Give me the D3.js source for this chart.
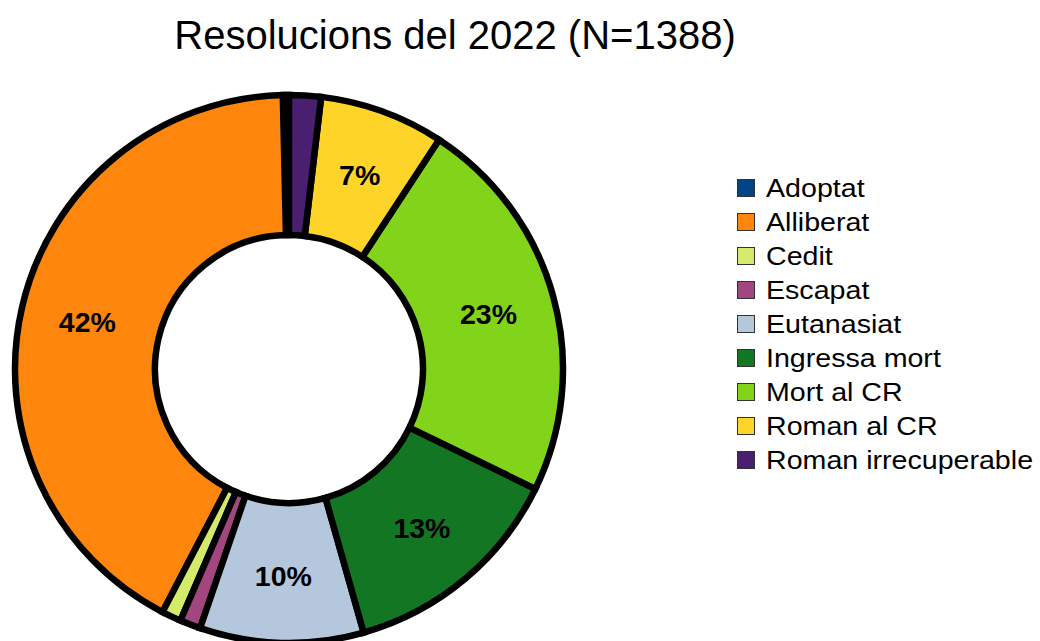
<!DOCTYPE html>
<html><head><meta charset="utf-8">
<script src="https://cdn.jsdelivr.net/npm/d3@7"></script>
<style>body{margin:0;background:#fff}svg{display:block}text{font-family:"Liberation Sans",Arial,sans-serif}</style>
</head><body>
<script>
const categories = ["Adoptat","Alliberat","Cedit","Escapat","Eutanasiat","Ingressa mort","Mort al CR","Roman al CR","Roman irrecuperable"];
const counts = [5,583,16,17,134,186,319,102,26];
const colors = ["#004586","#ff860d","#d4ea6b","#a1467e","#b4c7dc","#127622","#81d41a","#ffd428","#4b1f6f"];
const title = "Resolucions del 2022 (N=1388)";

const W=1040,H=641;
const svg=d3.select("body").append("svg").attr("width",W).attr("height",H);
svg.append("text").attr("x",455).attr("y",48.5).attr("text-anchor","middle")
  .attr("font-size",40).attr("fill","#000").text(title);

const cx=289, cy=369, rO=274, rI=134;
const total=d3.sum(counts);
const data=categories.map((c,i)=>({c,v:counts[i],col:colors[i]}));
const pie=d3.pie().value(d=>d.v).sort(null).startAngle(0).endAngle(-2*Math.PI);
const arcs=pie(data);
const arc=d3.arc().innerRadius(rI).outerRadius(rO);
const g=svg.append("g").attr("transform",`translate(${cx},${cy})`);
g.selectAll("path").data(arcs).join("path").attr("d",arc)
  .attr("fill",d=>d.data.col).attr("stroke","#000").attr("stroke-width",6.5).attr("stroke-linejoin","miter");
const lab=d3.arc().innerRadius(207).outerRadius(207);
g.selectAll("text.l").data(arcs.filter(d=>d.data.v/total>=0.05)).join("text")
  .attr("class","l").attr("transform",d=>`translate(${lab.centroid(d)})`)
  .attr("text-anchor","middle").attr("dy","0.36em").attr("font-size",28.5).attr("font-weight","bold")
  .text(d=>Math.round(d.data.v/total*100)+"%");

const lg=svg.append("g").attr("transform","translate(737,187.5)");
const rows=lg.selectAll("g").data(data).join("g").attr("transform",(d,i)=>`translate(0,${i*34})`);
rows.append("rect").attr("x",0.5).attr("y",-8).attr("width",17).attr("height",17)
  .attr("fill",d=>d.col).attr("stroke","#333").attr("stroke-width",1);
rows.append("text").attr("transform","translate(29,0) scale(1.1,1)").attr("dy","0.36em").attr("font-size",26).text(d=>d.c);
</script>
</body></html>
